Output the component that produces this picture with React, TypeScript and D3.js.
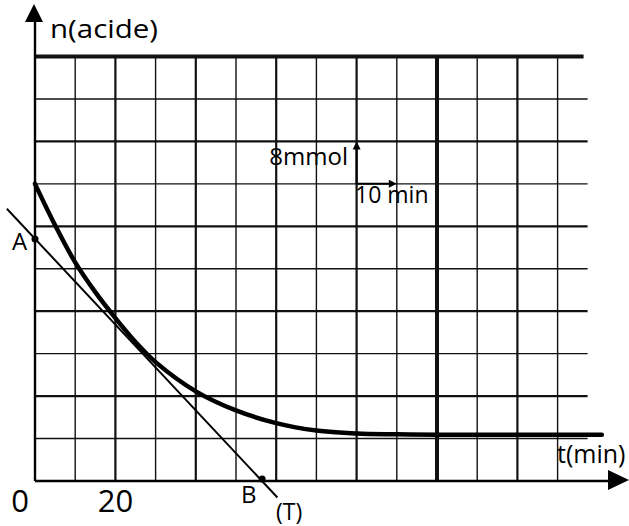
import React from "react";
import * as d3 from "d3";

// ---- data ----
const timeMin = [0, 5, 10, 15, 20, 25, 30, 40, 50, 60, 70, 80, 90, 100, 120, 141];
const nAcide = [56, 48.2, 41.2, 35.6, 30.7, 26.2, 22.4, 16.9, 13.3, 10.9, 9.5, 8.95, 8.8, 8.7, 8.7, 8.7];
const gridTimes = [0, 10, 20, 30, 40, 50, 60, 70, 80, 90, 100, 110, 120, 130];
const gridN = [0, 8, 16, 24, 32, 40, 48, 56, 64, 72, 80];
const tickLabels = [
  { t: 0, label: "0" },
  { t: 20, label: "20" },
];
const tangentT = [-7, 60.3];
const tangentN = [51.3, -3.1];
const pointA = { t: 0, n: 45.6, label: "A" };
const pointB = { t: 56.5, n: 0.4, label: "B" };
const scaleArrowOrigin = { t: 80, n: 56 };
const scaleArrowStep = { t: 10, n: 8 };

const W = 629;
const H = 526;

export default function App() {
  const x = d3.scaleLinear().domain([0, 130]).range([35, 557.6]);
  const y = d3.scaleLinear().domain([0, 80]).range([481, 56.5]);

  const curveData = timeMin.map((t, i) => [x(t), y(nAcide[i])] as [number, number]);
  const curvePath = d3.line().curve(d3.curveCatmullRom.alpha(0.5))(curveData) || "";

  const x0 = x(0);
  const y0 = y(0);
  const yTop = y(80);
  const hGridEnd = x(130) + 30;

  const ax = x(scaleArrowOrigin.t);
  const ay = y(scaleArrowOrigin.n);
  const ayTop = y(scaleArrowOrigin.n + scaleArrowStep.n);
  const axRight = x(scaleArrowOrigin.t + scaleArrowStep.t);

  const font = "'Open Sans', 'DejaVu Sans', sans-serif";

  return (
    <svg
      width={W}
      height={H}
      style={{ position: "absolute", left: 0, top: 0, background: "#fff" }}
      fontFamily={font}
    >
      <rect x={0} y={0} width={W} height={H} fill="#fff" />
      {/* horizontal grid */}
      {gridN.map((n, i) =>
        n === 0 ? null : (
          <line
            key={"h" + n}
            x1={x0}
            x2={n === 80 ? hGridEnd - 4 : hGridEnd}
            y1={y(n)}
            y2={y(n)}
            stroke="#111"
            strokeWidth={n === 80 ? 4 : i % 2 === 0 ? 2.2 : 1.4}
          />
        )
      )}
      {/* vertical grid */}
      {gridTimes.map((t, i) =>
        t === 0 ? null : (
          <line
            key={"v" + t}
            x1={x(t)}
            x2={x(t)}
            y1={yTop}
            y2={y0}
            stroke="#111"
            strokeWidth={t === 100 ? 4 : i % 2 === 0 ? 2.2 : 1.4}
          />
        )
      )}
      {/* axes */}
      <line x1={x0} x2={610} y1={y0} y2={y0} stroke="#000" strokeWidth={2.4} />
      <polygon points={`608,470 629,480 608,490`} fill="#000" />
      <line x1={x0} x2={x0} y1={y0} y2={20} stroke="#000" strokeWidth={2.4} />
      <polygon points={`25,22 34,4 43,22`} fill="#000" />

      {/* tangent (T) */}
      <line
        x1={x(tangentT[0])}
        y1={y(tangentN[0])}
        x2={x(tangentT[1])}
        y2={y(tangentN[1])}
        stroke="#000"
        strokeWidth={2}
      />
      {/* curve */}
      <path d={curvePath} fill="none" stroke="#000" strokeWidth={4.5} strokeLinecap="round" strokeLinejoin="round" />

      {/* points */}
      <circle cx={x(pointA.t)} cy={y(pointA.n)} r={3.5} fill="#000" />
      <circle cx={x(pointB.t)} cy={y(pointB.n)} r={3.5} fill="#000" />

      {/* scale arrows */}
      <line x1={ax} x2={ax} y1={ay} y2={ayTop + 6} stroke="#000" strokeWidth={2} />
      <polygon points={`${ax - 4},${ayTop + 8} ${ax},${ayTop} ${ax + 4},${ayTop + 8}`} fill="#000" />
      <line x1={ax} x2={axRight - 6} y1={ay} y2={ay} stroke="#000" strokeWidth={2} />
      <polygon points={`${axRight - 8},${ay - 4} ${axRight},${ay} ${axRight - 8},${ay + 4}`} fill="#000" />

      {/* texts */}
      <text x={50} y={38} fontSize={26} textLength={108} lengthAdjust="spacingAndGlyphs" fill="#000">
        n(acide)
      </text>
      <text x={348} y={165} fontSize={24} textAnchor="end" fill="#000">
        8mmol
      </text>
      <text x={355} y={203} fontSize={23} fill="#000">
        10 min
      </text>
      <text x={557} y={463} fontSize={25} fill="#000">
        t(min)
      </text>
      {tickLabels.map((d) => (
        <text key={d.label} x={x(d.t) - (d.t === 0 ? 15 : 0)} y={512} fontSize={31} textAnchor="middle" fill="#000">
          {d.label}
        </text>
      ))}
      <text x={12} y={250} fontSize={24} fill="#000">
        {pointA.label}
      </text>
      <text x={241} y={503} fontSize={24} fill="#000">
        {pointB.label}
      </text>
      <text x={276} y={520} fontSize={23} fill="#000">
        (T)
      </text>
    </svg>
  );
}
